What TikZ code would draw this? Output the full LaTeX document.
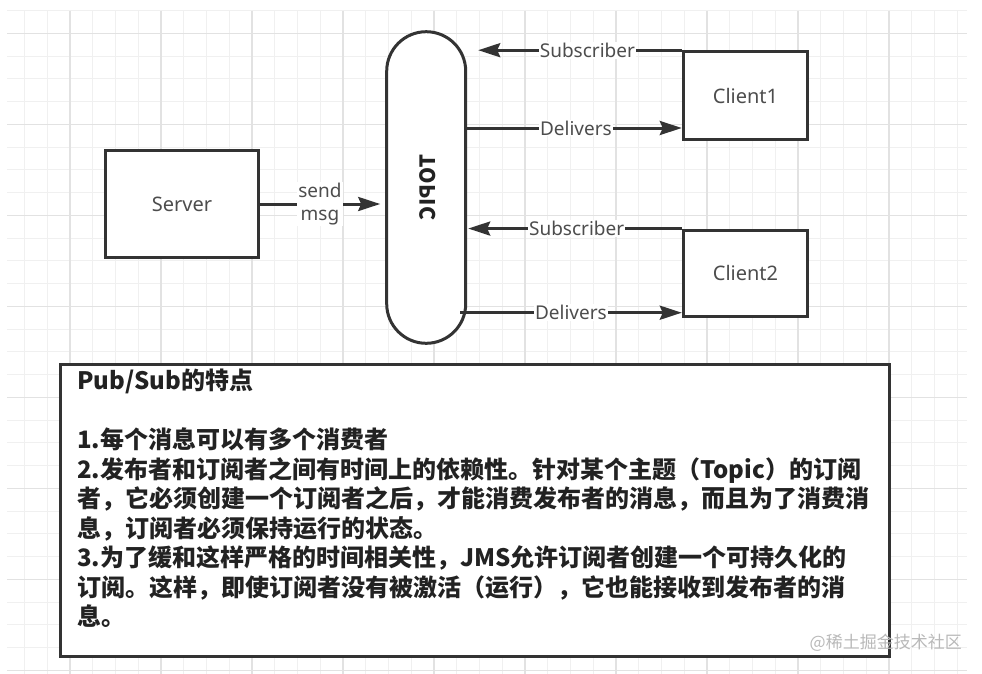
\documentclass[tikz,border=0pt]{standalone}
\usepackage{graphicx}
\usepackage{fontspec}
\setmainfont{Noto Sans}
\newfontfamily\cjk{Noto Sans CJK SC}
\usetikzlibrary{arrows.meta}
\definecolor{linec}{HTML}{333333}
\definecolor{labc}{HTML}{4D4D4D}
\definecolor{textc}{HTML}{222222}
\definecolor{gridminor}{HTML}{F0F0F0}
\definecolor{gridmajor}{HTML}{E2E2E2}
\begin{document}
\begin{tikzpicture}[x=1pt,y=-1pt,
  box/.style={draw=linec, line width=3pt, fill=white, inner sep=0pt, text=labc, font=\fontsize{20}{24}\selectfont},
  arr/.style={draw=linec, line width=3pt, -{Stealth[length=22pt,width=14pt,inset=3pt]}},
  lbl/.style={fill=white, inner sep=1pt, text=labc, font=\fontsize{19}{23}\selectfont, align=center},
  gmin/.style={draw=gridminor, line width=1pt},
  gmaj/.style={draw=gridmajor, line width=1.2pt}]
\useasboundingbox (0,0) rectangle (982,673);
\fill[white] (0,0) rectangle (982,673);
\begin{scope}
  \clip (7,10.5) rectangle (967,673);
  \foreach \k in {-2,...,39} \draw[gmin] ({70+22.75*\k},10.5) -- ++(0,663);
  \foreach \k in {-1,...,28} \draw[gmin] (7,{33.3+22.75*\k}) -- ++(960,0);
  \foreach \k in {0,...,9} \draw[gmaj] ({70+91*\k},10.5) -- ++(0,663);
  \foreach \k in {0,...,7} \draw[gmaj] (7,{33.3+91*\k}) -- ++(960,0);
\end{scope}

% nodes
\node[box, minimum width=152.6pt, minimum height=106.6pt] (server) at (182,204) {Server};
\node[box, rounded corners=39.5pt, minimum width=79pt, minimum height=311.6pt] (topic) at (426.2,187.5) {};
\node[text=textc, inner sep=0pt, font=\cjk\bfseries\fontsize{21}{24}\selectfont] (topiclbl) at (428,187.5) {\rotatebox{90}{\reflectbox{TOPIC}}};
\node[box, minimum width=124.4pt, minimum height=87.6pt] (client1) at (745.5,95.5) {Client1};
\node[box, minimum width=124.4pt, minimum height=86.7pt] (client2) at (745.5,273.4) {Client2};

\coordinate (d1) at (465.7,128);
\coordinate (d2) at (460,312.7);

% connectors
\draw[arr, shorten >=5pt] (server.east) -- (server.east -| topic.west)
  node[lbl, pos=0.48] (sendlbl) {send\\msg};
\draw[arr, shorten >=11pt] (client1.north west) -- (client1.north west -| topic.east)
  node[lbl, pos=0.44] (sub1) {Subscriber};
\draw[arr] (d1) -- (d1 -| client1.west)
  node[lbl, pos=0.51] (del1) {Delivers};
\draw[arr, shorten >=1pt] (client2.north west) -- (client2.north west -| topic.east)
  node[lbl, pos=0.49] (sub2) {Subscriber};
\draw[arr] (d2) -- (d2 -| client2.west)
  node[lbl, pos=0.50] (del2) {Delivers};

% info box
\node[draw=linec, line width=3pt, fill=white, minimum width=829pt, minimum height=292pt, inner sep=0pt] (infobox) at (474.5,510) {};
\node[anchor=north west, inner sep=0pt, align=left, text=textc, font=\cjk\bfseries\fontsize{24}{29.5}\selectfont] (infotext) at (77,369)
{Pub/Sub的特点\\[29.5pt]
1.每个消息可以有多个消费者\\
2.发布者和订阅者之间有时间上的依赖性。针对某个主题（Topic）的订阅\\
者，它必须创建一个订阅者之后，才能消费发布者的消息，而且为了消费消\\
息，订阅者必须保持运行的状态。\\
3.为了缓和这样严格的时间相关性，JMS允许订阅者创建一个可持久化的\\
订阅。这样，即使订阅者没有被激活（运行），它也能接收到发布者的消\\
息。};

\node[anchor=east, inner sep=1pt, text=gray!55, font=\cjk\fontsize{17}{20}\selectfont] (wm) at (963,643) {@稀土掘金技术社区};
\end{tikzpicture}
\end{document}
